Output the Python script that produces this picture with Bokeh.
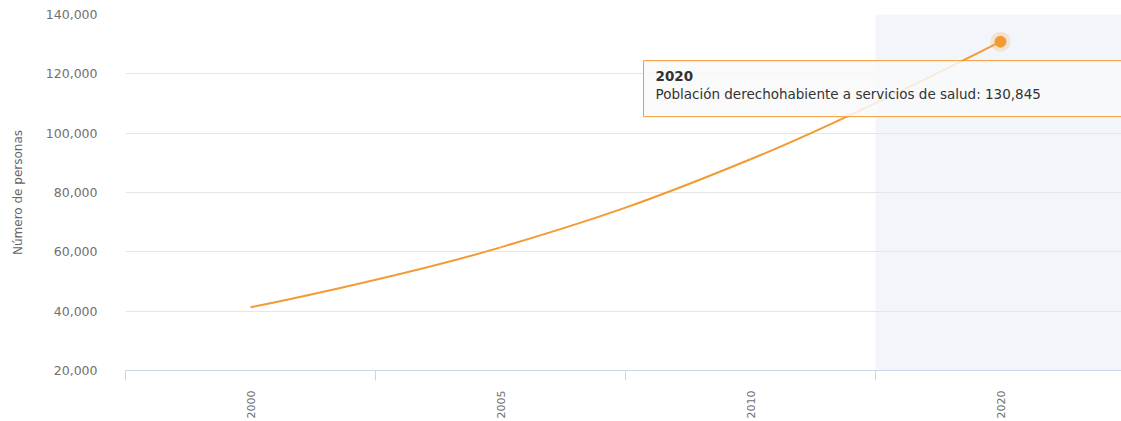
from bokeh.plotting import figure
from bokeh.models import (FixedTicker, NumeralTickFormatter, BoxAnnotation, Label,
                          ColumnDataSource)
from bokeh.embed import file_html
from bokeh.resources import INLINE
import math

# ---- data ----
years = ["2000", "2005", "2010", "2020"]
values = [41300, 61500, 91200, 130845]
series_name = "Población derechohabiente a servicios de salud"
y_title = "Número de personas"
y_ticks = [20000, 40000, 60000, 80000, 100000, 120000, 140000]
highlight_year = "2020"

ORANGE = "#f39a32"
GRAY = "#666666"
FONT = "DejaVu Sans"

xs = list(range(len(years)))

# Highcharts-style spline control points computed from the data
sm = 1.5
den = sm + 1
lc = {}
rc = {}
for i in range(1, len(xs) - 1):
    px, py = xs[i], values[i]
    lx, ly = xs[i - 1], values[i - 1]
    nx, ny = xs[i + 1], values[i + 1]
    lcx = (sm * px + lx) / den
    lcy = (sm * py + ly) / den
    rcx = (sm * px + nx) / den
    rcy = (sm * py + ny) / den
    corr = ((rcy - lcy) * (rcx - px)) / (rcx - lcx) + py - rcy
    lcy += corr
    rcy += corr
    if lcy > ly and lcy > py:
        lcy = max(ly, py); rcy = 2 * py - lcy
    elif lcy < ly and lcy < py:
        lcy = min(ly, py); rcy = 2 * py - lcy
    if rcy > ny and rcy > py:
        rcy = max(ny, py); lcy = 2 * py - rcy
    elif rcy < ny and rcy < py:
        rcy = min(ny, py); lcy = 2 * py - rcy
    lc[i] = (lcx, lcy)
    rc[i] = (rcx, rcy)

seg = dict(x0=[], y0=[], x1=[], y1=[], cx0=[], cy0=[], cx1=[], cy1=[])
for i in range(1, len(xs)):
    c0 = rc.get(i - 1, (xs[i - 1], values[i - 1]))
    c1 = lc.get(i, (xs[i], values[i]))
    seg["x0"].append(xs[i - 1]); seg["y0"].append(values[i - 1])
    seg["x1"].append(xs[i]); seg["y1"].append(values[i])
    seg["cx0"].append(c0[0]); seg["cy0"].append(c0[1])
    seg["cx1"].append(c1[0]); seg["cy1"].append(c1[1])

W, H = 1121, 421
left_b, top_b, bottom_b = 125, 14, 44
frame_w = W - left_b
x_start = -0.5
x_end = x_start + frame_w / 250.0

p = figure(width=W, height=H, output_backend="svg", toolbar_location=None,
           x_range=(x_start, x_end), y_range=(y_ticks[0], y_ticks[-1]),
           min_border_left=left_b, min_border_right=0, min_border_top=top_b,
           min_border_bottom=bottom_b)
p.outline_line_color = None
p.background_fill_color = "white"
p.border_fill_color = "white"

# plot band for highlighted category
hi = years.index(highlight_year)
band = BoxAnnotation(left=hi - 0.5, fill_color="#f2f5fa", fill_alpha=1.0,
                     line_color=None, level="image")
p.add_layout(band)

# grid
p.xgrid.grid_line_color = None
p.ygrid.grid_line_color = "#e6e6e6"
p.ygrid.grid_line_width = 1
p.ygrid.ticker = FixedTicker(ticks=y_ticks)

# y axis
p.yaxis.ticker = FixedTicker(ticks=y_ticks)
p.yaxis.formatter = NumeralTickFormatter(format="0,0")
p.yaxis.axis_line_color = None
p.yaxis.major_tick_line_color = None
p.yaxis.minor_tick_line_color = None
p.yaxis.major_label_standoff = 22
p.yaxis.major_label_text_color = "#707070"
p.yaxis.major_label_text_font = FONT
p.yaxis.major_label_text_font_size = "12.5px"
p.yaxis.axis_label = y_title
p.yaxis.axis_label_text_font = FONT
p.yaxis.axis_label_text_font_size = "12px"
p.yaxis.axis_label_text_font_style = "normal"
p.yaxis.axis_label_text_color = GRAY
p.yaxis.axis_label_standoff = 18

# x axis
p.xaxis.ticker = FixedTicker(ticks=xs, minor_ticks=[i - 0.5 for i in range(len(xs) + 1)])
p.xaxis.major_label_overrides = {i: y for i, y in zip(xs, years)}
p.xaxis.major_label_orientation = math.pi / 2
p.xaxis.axis_line_color = "#ccd6eb"
p.xaxis.major_tick_line_color = None
p.xaxis.minor_tick_line_color = "#ccd6eb"
p.xaxis.minor_tick_in = 0
p.xaxis.minor_tick_out = 10
p.xaxis.major_label_standoff = 10
p.xaxis.major_label_text_color = "#707070"
p.xaxis.major_label_text_font = FONT
p.xaxis.major_label_text_font_size = "11px"

# spline
p.bezier(x0="x0", y0="y0", x1="x1", y1="y1", cx0="cx0", cy0="cy0", cx1="cx1", cy1="cy1",
         source=ColumnDataSource(seg), line_color=ORANGE, line_width=2)

# hover marker on highlighted point
hx, hy = xs[hi], values[hi]
p.scatter([hx], [hy], size=20, fill_color=ORANGE, fill_alpha=0.2, line_color=None)
p.scatter([hx], [hy], size=11, fill_color=ORANGE, line_color=ORANGE)

# tooltip
tip_body = Label(x=hx, y=hy, x_offset=-357, y_offset=-47,
                 text=f"{series_name}: {values[hi]:,}",
                 text_font=FONT, text_font_size="13.5px", text_color="#333333",
                 text_align="left", text_baseline="middle",
                 background_fill_color="#f9f9f9", background_fill_alpha=0.85,
                 border_line_color=ORANGE, border_line_width=1,
                 padding=dict(left=12, right=200, top=25, bottom=15))
p.add_layout(tip_body)
tip_head = Label(x=hx, y=hy, x_offset=-345, y_offset=-34, text=years[hi],
                 text_font=FONT, text_font_size="13.5px", text_font_style="bold",
                 text_color="#333333", text_align="left", text_baseline="middle")
p.add_layout(tip_head)

open("out.html", "w").write(file_html(p, INLINE))
